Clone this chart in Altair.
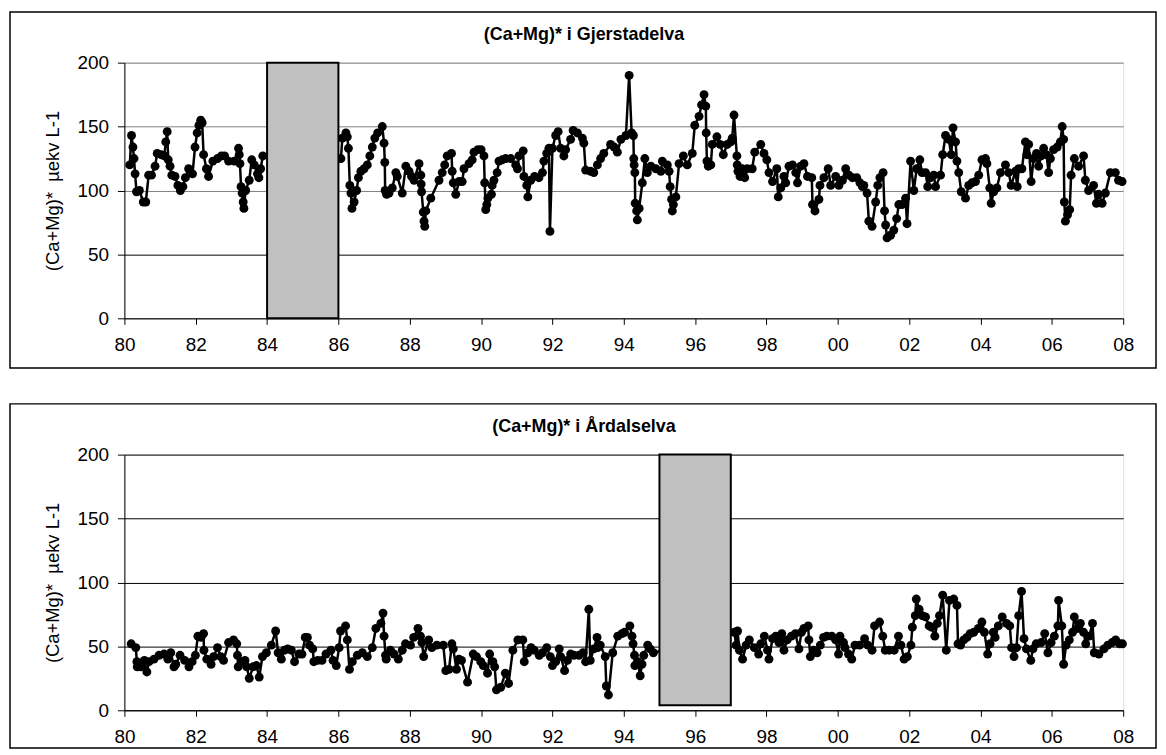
import altair as alt
import pandas as pd

# ---------------- data (years since 1900, value) ----------------
top_t = [80.15, 80.20, 80.24, 80.27, 80.30, 80.34, 80.42, 80.53, 80.60, 80.68, 80.76, 80.86, 80.92, 81.03,
         81.12, 81.16, 81.20, 81.23, 81.28, 81.33, 81.42, 81.50, 81.57, 81.64, 81.71, 81.80, 81.91, 81.98,
         82.04, 82.09, 82.14, 82.18, 82.22, 82.30, 82.36, 82.48, 82.61, 82.72, 82.81, 82.92, 83.08, 83.20,
         83.22, 83.24, 83.27, 83.30, 83.33, 83.35, 83.40, 83.50, 83.57, 83.64, 83.73, 83.77, 83.82, 83.88,
         86.07, 86.11, 86.21, 86.25, 86.28, 86.32, 86.35, 86.38, 86.44, 86.51, 86.56, 86.63, 86.72, 86.81,
         86.88, 86.95, 87.02, 87.10, 87.23, 87.28, 87.30, 87.31, 87.35, 87.42, 87.51, 87.61, 87.65, 87.79,
         87.89, 87.98, 88.05, 88.12, 88.26, 88.31, 88.32, 88.33, 88.38, 88.40, 88.42, 88.45, 88.59, 88.82,
         88.91, 88.98, 89.05, 89.17, 89.19, 89.22, 89.29, 89.38, 89.47, 89.52, 89.66, 89.75, 89.80, 89.91,
         90.00, 90.08, 90.10, 90.13, 90.16, 90.19, 90.29, 90.31, 90.36, 90.45, 90.50, 90.59, 90.69, 90.83,
         90.97, 91.02, 91.06, 91.18, 91.20, 91.28, 91.31, 91.39, 91.50, 91.62, 91.72, 91.76, 91.84, 91.90,
         91.93, 92.00, 92.09, 92.16, 92.23, 92.32, 92.37, 92.51, 92.58, 92.70, 92.84, 92.88, 92.93, 93.07,
         93.16, 93.26, 93.35, 93.44, 93.63, 93.73, 93.82, 93.92, 94.06, 94.15, 94.22, 94.27, 94.28, 94.29,
         94.31, 94.32, 94.36, 94.38, 94.43, 94.52, 94.59, 94.66, 94.76, 94.90, 95.04, 95.08, 95.22, 95.27,
         95.30, 95.34, 95.36, 95.39, 95.46, 95.55, 95.67, 95.78, 95.92, 95.99, 96.11, 96.18, 96.25, 96.30,
         96.31, 96.33, 96.37, 96.44, 96.48, 96.61, 96.70, 96.79, 96.90, 97.00, 97.04, 97.09, 97.17, 97.18,
         97.20, 97.26, 97.32, 97.39, 97.46, 97.60, 97.67, 97.84, 97.93, 98.01, 98.07, 98.17, 98.29, 98.33,
         98.40, 98.49, 98.54, 98.63, 98.73, 98.82, 98.87, 98.96, 99.05, 99.15, 99.27, 99.29, 99.36, 99.47,
         99.50, 99.61, 99.73, 99.80, 99.94, 100.03, 100.13, 100.22, 100.31, 100.41, 100.53, 100.62, 100.69,
         100.73, 100.82, 100.87, 100.96, 101.06, 101.12, 101.18, 101.27, 101.31, 101.34, 101.38, 101.48,
         101.57, 101.65, 101.71, 101.80, 101.90, 101.94, 102.04, 102.13, 102.21, 102.30, 102.36, 102.46,
         102.52, 102.60, 102.69, 102.74, 102.88, 102.94, 103.02, 103.11, 103.18, 103.23, 103.30, 103.34,
         103.39, 103.46, 103.58, 103.67, 103.76, 103.86, 103.95, 104.04, 104.14, 104.18, 104.26, 104.30,
         104.37, 104.46, 104.56, 104.70, 104.79, 104.86, 104.98, 105.03, 105.07, 105.16, 105.26, 105.30,
         105.35, 105.42, 105.49, 105.57, 105.63, 105.70, 105.77, 105.85, 105.91, 105.96, 106.05, 106.15,
         106.24, 106.29, 106.33, 106.35, 106.38, 106.44, 106.50, 106.54, 106.63, 106.75, 106.89, 106.94,
         107.03, 107.17, 107.25, 107.31, 107.41, 107.50, 107.64, 107.78, 107.87, 107.97]
top_v = [120, 143, 134, 125, 113, 99, 100, 91, 91, 112, 112, 119, 129, 128,
         127, 138, 146, 124, 119, 112, 111, 104, 100, 103, 110, 117, 113, 134,
         145, 151, 155, 153, 128, 117, 111, 123, 125, 127, 127, 123, 123, 133,
         128, 121, 103, 98, 91, 86, 100, 108, 124, 120, 113, 110, 117, 127,
         125, 141, 145, 142, 133, 104, 98, 86, 91, 100, 110, 115, 117, 120,
         127, 134, 141, 145, 150, 137, 122, 100, 97, 98, 102, 114, 111, 98,
         119, 115, 111, 108, 121, 112, 105, 99, 83, 76, 72, 84, 94, 108,
         114, 120, 127, 129, 115, 106, 97, 107, 107, 117, 121, 124, 130, 132,
         132, 127, 106, 85, 89, 94, 97, 104, 108, 114, 123, 124, 125, 125,
         120, 117, 127, 131, 111, 104, 95, 108, 111, 110, 114, 123, 129, 133,
         68, 133, 143, 146, 133, 127, 132, 140, 147, 145, 141, 137, 116, 115,
         114, 120, 125, 129, 136, 134, 130, 140, 143, 190, 145, 143, 125, 120,
         114, 90, 84, 77, 86, 106, 125, 114, 119, 117, 115, 123, 120, 115,
         103, 93, 84, 89, 95, 121, 127, 120, 129, 151, 158, 167, 175, 166,
         145, 123, 119, 120, 136, 142, 136, 128, 136, 138, 141, 159, 127, 120,
         115, 111, 117, 110, 117, 117, 130, 136, 129, 124, 114, 107, 117, 95,
         102, 111, 106, 119, 120, 114, 106, 119, 121, 111, 110, 89, 84, 93,
         104, 110, 117, 104, 111, 104, 108, 117, 112, 110, 110, 106, 103,
         104, 98, 76, 72, 91, 104, 110, 114, 84, 73, 63, 65,
         69, 78, 89, 89, 94, 74, 123, 100, 117, 124, 114, 114,
         103, 110, 112, 103, 112, 128, 143, 140, 128, 149, 138, 123,
         114, 99, 94, 104, 106, 107, 112, 124, 125, 121, 102, 90,
         99, 102, 114, 120, 114, 104, 115, 103, 117, 117, 138, 128,
         136, 107, 125, 129, 119, 127, 133, 128, 114, 125, 132, 134,
         138, 150, 140, 91, 76, 81, 85, 112, 125, 119, 127, 108,
         100, 104, 90, 97, 90, 98, 114, 114, 108, 107]

bot_t = [80.19, 80.32, 80.35, 80.36, 80.46, 80.56, 80.63, 80.69, 80.83, 80.97, 81.11, 81.22, 81.30, 81.39,
         81.44, 81.56, 81.69, 81.81, 81.90, 81.99, 82.06, 82.15, 82.22, 82.23, 82.31, 82.43, 82.50, 82.61,
         82.70, 82.78, 82.92, 83.06, 83.15, 83.17, 83.19, 83.29, 83.38, 83.43, 83.50, 83.61, 83.70, 83.78,
         83.87, 83.98, 84.12, 84.24, 84.31, 84.40, 84.49, 84.58, 84.68, 84.77, 84.89, 84.98, 85.07, 85.13,
         85.19, 85.28, 85.31, 85.42, 85.54, 85.65, 85.79, 85.85, 85.94, 86.02, 86.06, 86.20, 86.25, 86.31,
         86.39, 86.53, 86.67, 86.81, 86.95, 87.05, 87.19, 87.25, 87.28, 87.32, 87.34, 87.46, 87.56, 87.68,
         87.79, 87.88, 88.02, 88.11, 88.23, 88.30, 88.34, 88.39, 88.53, 88.62, 88.76, 88.94, 89.01, 89.10,
         89.18, 89.22, 89.31, 89.38, 89.45, 89.62, 89.78, 89.87, 89.99, 90.06, 90.18, 90.24, 90.33, 90.38,
         90.43, 90.55, 90.68, 90.77, 90.89, 91.03, 91.17, 91.21, 91.31, 91.40, 91.49, 91.63, 91.72, 91.84,
         91.94, 92.00, 92.09, 92.19, 92.23, 92.34, 92.42, 92.51, 92.60, 92.74, 92.86, 92.93, 93.02, 93.06,
         93.16, 93.25, 93.27, 93.34, 93.48, 93.51, 93.57, 93.69, 93.83, 93.95, 94.02, 94.17, 94.23, 94.26,
         94.30, 94.31, 94.39, 94.46, 94.51, 94.56, 94.67, 94.74, 94.83,
         97.10, 97.15, 97.19, 97.24, 97.33, 97.43, 97.52, 97.66, 97.78, 97.84, 97.94, 98.03, 98.07, 98.17,
         98.26, 98.35, 98.43, 98.49, 98.58, 98.70, 98.81, 98.91, 98.98, 99.05, 99.17, 99.19, 99.23, 99.32,
         99.42, 99.51, 99.60, 99.69, 99.83, 99.94, 100.02, 100.06, 100.16, 100.20, 100.30, 100.39, 100.48,
         100.61, 100.75, 100.84, 100.96, 101.03, 101.17, 101.26, 101.33, 101.44, 101.58, 101.70, 101.77,
         101.86, 101.95, 102.05, 102.09, 102.17, 102.20, 102.28, 102.37, 102.46, 102.56, 102.63, 102.72,
         102.79, 102.85, 102.94, 103.04, 103.13, 103.25, 103.34, 103.37, 103.44, 103.53, 103.62, 103.71,
         103.81, 103.94, 104.04, 104.11, 104.20, 104.27, 104.36, 104.41, 104.50, 104.61, 104.73, 104.82,
         104.87, 104.94, 105.01, 105.07, 105.15, 105.22, 105.29, 105.41, 105.47, 105.56, 105.70, 105.80,
         105.89, 105.98, 106.07, 106.17, 106.19, 106.28, 106.33, 106.40, 106.49, 106.58, 106.63, 106.72,
         106.80, 106.89, 106.95, 107.05, 107.14, 107.19, 107.32, 107.46, 107.57, 107.69, 107.79, 107.90,
         107.98]
bot_v = [52, 49, 38, 34, 34, 39, 30, 38, 40, 43, 44, 40, 45, 34,
         36, 43, 39, 34, 38, 43, 58, 57, 60, 47, 40, 36, 42, 49,
         42, 39, 53, 55, 52, 43, 34, 38, 39, 34, 25, 34, 35, 26,
         42, 45, 51, 62, 45, 40, 47, 48, 47, 38, 44, 44, 57, 57,
         51, 48, 38, 39, 39, 44, 47, 39, 35, 49, 62, 66, 55, 32,
         38, 43, 45, 42, 49, 64, 68, 76, 58, 43, 40, 47, 44, 40,
         47, 52, 51, 57, 64, 58, 53, 42, 55, 49, 51, 51, 31, 32,
         52, 48, 32, 40, 39, 22, 44, 42, 38, 35, 29, 44, 38, 34,
         16, 18, 29, 21, 47, 55, 55, 38, 45, 49, 47, 43, 45, 49,
         42, 35, 38, 48, 42, 31, 39, 44, 43, 43, 45, 38, 79, 39,
         48, 57, 49, 51, 42, 19, 12, 45, 58, 60, 61, 66, 58, 52,
         43, 35, 38, 27, 36, 43, 51, 48, 45,
         61, 51, 62, 47, 40, 51, 55, 49, 44, 52, 58, 47, 40, 56,
         58, 53, 60, 47, 55, 58, 60, 48, 61, 64, 66, 55, 42, 47,
         45, 51, 57, 58, 58, 55, 44, 58, 53, 49, 44, 40, 51,
         51, 56, 51, 47, 66, 69, 58, 47, 47, 47, 58, 51,
         40, 42, 51, 65, 74, 87, 79, 74, 73, 66, 65, 58,
         68, 74, 90, 47, 86, 87, 82, 52, 51, 55, 57, 60,
         61, 64, 69, 61, 44, 52, 61, 57, 66, 73, 68, 66,
         49, 42, 49, 74, 93, 56, 48, 39, 48, 52, 53, 60,
         45, 53, 58, 66, 86, 66, 36, 51, 55, 61, 73, 64,
         68, 61, 52, 58, 68, 45, 44, 48, 51, 53, 55, 52,
         52]

tick_years = [80, 82, 84, 86, 88, 90, 92, 94, 96, 98, 100, 102, 104, 106, 108]
tick_labels = ["80", "82", "84", "86", "88", "90", "92", "94", "96", "98", "00", "02", "04", "06", "08"]
y_ticks = [0, 50, 100, 150, 200]

titles = ["(Ca+Mg)* i Gjerstadelva", "(Ca+Mg)* i Årdalselva"]
y_title = "(Ca+Mg)*\u00a0 µekv L-1"
gap_top = [84, 86, 0, 200]
gap_bot = [95, 97, 4, 200]

W, H = 1004, 257
FONT = "Liberation Sans"
label_expr = "[" + ",".join("'%s'" % s for s in tick_labels) + "][round((datum.value-80)/2)]"


def panel(ts, vs, gap, title, grid_color, top_off, bot_off):
    df = pd.DataFrame({"t": ts, "v": vs})
    gdf = pd.DataFrame({"x0": [gap[0]], "x1": [gap[1]], "y0": [gap[2]], "y1": [gap[3]]})
    one = pd.DataFrame({"k": [0]})
    x = alt.X("t:Q", scale=alt.Scale(domain=[80, 108], nice=False, zero=False),
              axis=alt.Axis(values=tick_years, labelExpr=label_expr, grid=False, title=None,
                            labelFont=FONT, labelFontSize=19, labelColor="black", labelPadding=11,
                            tickColor="black", tickSize=6, domainColor="black", labelFlush=False))
    y = alt.Y("v:Q", scale=alt.Scale(domain=[0, 200], nice=False),
              axis=alt.Axis(values=y_ticks, title=y_title, titleFont=FONT, titleFontSize=18.5,
                            titleFontWeight="normal", titleColor="black", titlePadding=15,
                            labelFont=FONT, labelFontSize=19, labelColor="black", labelPadding=9,
                            tickColor="black", tickSize=7, domainColor="black",
                            gridColor=grid_color, gridWidth=1))
    frame = alt.Chart(one).mark_rect(fill="white", fillOpacity=0, stroke="black", strokeWidth=1.5,
                                     clip=False).encode(
        x=alt.value(-115), x2=alt.value(W + 33), y=alt.value(-top_off), y2=alt.value(H + bot_off))
    ttl = alt.Chart(one).mark_text(text=title, font=FONT, fontSize=18, fontWeight="bold",
                                   align="center", baseline="middle", color="black").encode(
        x=alt.value(W / 2 - 40), y=alt.value(-28))
    line = alt.Chart(df).mark_line(color="black", strokeWidth=2.5).encode(x=x, y=y)
    pts = alt.Chart(df).mark_circle(color="black", size=80, opacity=1).encode(x="t:Q", y="v:Q")
    box = alt.Chart(gdf).mark_rect(fill="#c0c0c0", stroke="black", strokeWidth=2).encode(
        x="x0:Q", x2="x1:Q", y="y0:Q", y2="y1:Q")
    return alt.layer(frame, ttl, line, pts, box).properties(width=W, height=H)


top_grid = alt.condition("datum.value == 50", alt.value("black"), alt.value("#808080"))
p1 = panel(top_t, top_v, gap_top, titles[0], top_grid, 51, 50)
p2 = panel(bot_t, bot_v, gap_bot, titles[1], "black", 51, 38)

chart = alt.vconcat(p1, p2, spacing=32).properties(
    padding={"left": 0, "top": 0, "right": 0, "bottom": 0}).configure_view(
    stroke="black", strokeWidth=1).configure(background="white")

chart.save("out.html", embed_options={"renderer": "svg", "actions": False})
